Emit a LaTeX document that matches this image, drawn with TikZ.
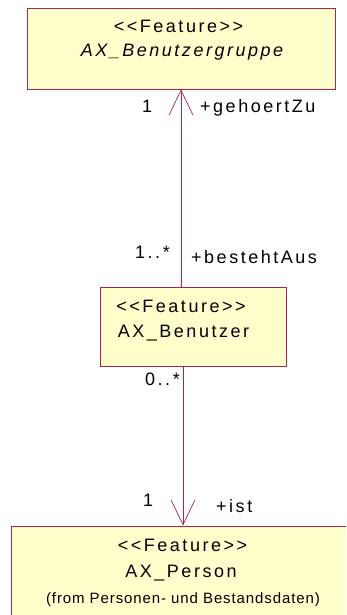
\documentclass[tikz,border=0pt]{standalone}
\usepackage{fontspec}
\setmainfont{Liberation Sans}[LetterSpace=14]
\newfontfamily\herkunftfont{Liberation Sans}[LetterSpace=6]
\usepackage{tikz}
\usetikzlibrary{arrows.meta}
\definecolor{umlrand}{RGB}{170,35,80}
\definecolor{umlgelb}{RGB}{255,255,204}

\begin{document}
\begin{tikzpicture}[x=1pt, y=-1pt,
    klasse/.style={draw=umlrand, fill=umlgelb, line width=0.8pt, inner sep=0pt},
    txt/.style={font=\fontsize{18}{21}\selectfont, inner sep=0pt, anchor=base},
    rolle/.style={txt, anchor=base west},
    assoc/.style={draw=umlrand, line width=0.7pt,
        -{Straight Barb[length=25pt, width=24pt, line width=0.7pt]}}]
    % Rahmen des Bildes
    \path[use as bounding box, clip] (0,0) rectangle (346,615);

    % Klassen
    \node[klasse, minimum width=308pt, minimum height=81pt] (gruppe) at (181,48.5) {};
    \node[klasse, minimum width=186pt, minimum height=79pt] (benutzer) at (193,326.5) {};
    \node[klasse, minimum width=339pt, minimum height=94pt] (person) at (180.5,573) {};

    % Beschriftung der Klassen
    \node[txt] (gruppeStereo) at (178.5,33) {<\kern2.5pt<Feature>\kern2.5pt>};
    \node[txt, font=\fontsize{18}{21}\selectfont\itshape] (gruppeName) at (182,57) {AX\_Benutzergruppe};
    \node[txt] (benutzerStereo) at (181,312) {<\kern2.5pt<Feature>\kern2.5pt>};
    \node[txt] (benutzerName) at (183.5,337) {AX\_Benutzer};
    \node[txt] (personStereo) at (182.5,551) {<\kern2.5pt<Feature>\kern2.5pt>};
    \node[txt] (personName) at (181,577) {AX\_Person};
    \node[txt, font=\fontsize{15}{18}\selectfont\herkunftfont] (personHerkunft) at (183,603)
        {(from Personen- und Bestandsdaten)};

    % Assoziationen
    \draw[assoc] (benutzer.north -| gruppe.south) -- (gruppe.south);
    \draw[assoc] ([xshift=-10pt]benutzer.south) -- ([xshift=-10pt]benutzer.south |- person.north);

    % Rollen und Multiplizitaeten
    \node[rolle] (multGruppe) at (142,113) {1};
    \node[rolle] (rolleGehoertZu) at (200,113) {+gehoertZu};
    \node[rolle] (multBesteht) at (135,258) {1..*};
    \node[rolle] (rolleBestehtAus) at (191,263) {+bestehtAus};
    \node[rolle] (multBenutzer) at (145,385) {0..*};
    \node[rolle] (multPerson) at (143,506) {1};
    \node[rolle] (rolleIst) at (216,512) {+ist};
\end{tikzpicture}
\end{document}
